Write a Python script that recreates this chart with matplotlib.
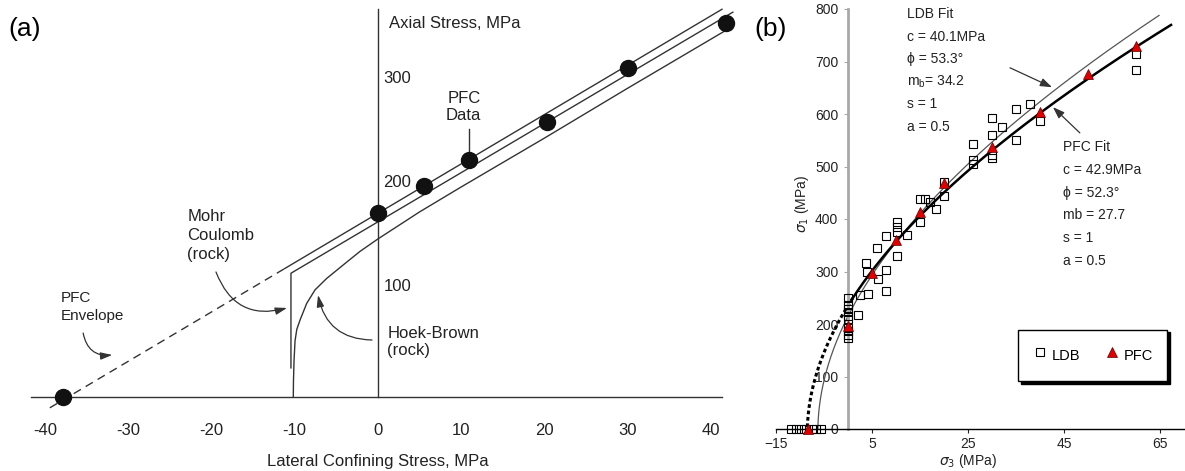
import numpy as np
import matplotlib.pyplot as plt

plt.rcParams['font.family'] = ['Liberation Sans', 'DejaVu Sans']

W, H = 1185, 471

# -------------------------------------------------------
# (a) data: PFC points and the three envelopes
# -------------------------------------------------------
pfc_dots_x = [-37.8, 0.0, 5.5, 10.9, 20.3, 30.0, 41.8]
pfc_dots_y = [0, 177, 203, 228, 264, 316, 360]

envelope_dash_x = [-39.4, -11.2]
envelope_dash_y = [-10.4, 123.5]
envelope_x = [-11.2, 41.3]
envelope_y = [123.5, 372.8]

mohr_x = [-10.45, -10.45, 42.6]
mohr_y = [28, 119, 370]

hoek_a_x = [-10.17, -10.15, -10.08, -9.96, -9.75, -9.36, -8.56, -7.56, -6.16,
            -4.17, -2.16, 0.0, 5.0, 10.0, 20.0, 30.0, 42.5]
hoek_a_y = [0, 15, 35, 54, 65, 74, 90, 103, 114, 127, 140, 152, 178, 202, 249,
            297, 356]

xticks_a = [-40, -30, -20, -10, 0, 10, 20, 30, 40]
yticks_a = [100, 200, 300]

# -------------------------------------------------------
# (b) data: LDB lab tests, PFC tests, Hoek-Brown fits
# -------------------------------------------------------
ldb_x = [-11.9, -10.8, -9.8, -8.75, -7.5, -6.7, -5.6,
         0, 0, 0, 0, 0, 0, 0, 0, 0, 0,
         2.0, 2.5, 4.2, 3.7, 4.0, 6.0, 6.2, 8.0, 8.0, 8.0, 10.2, 10.2, 10.2,
         10.2, 12.3, 15, 15, 16, 17, 18.3, 20, 20, 26, 26, 26, 30, 30, 30, 30,
         32, 35, 35, 38, 40, 60, 60]
ldb_y = [0, 0, 0, 0, 0, 0, 0,
         250, 237, 228, 222, 216, 210, 192, 186, 180, 174,
         217, 255, 258, 316, 300, 345, 286, 303, 263, 368, 330, 376, 385,
         394, 370, 395, 438, 438, 433, 420, 471, 443, 542, 513, 504, 592, 560,
         522, 516, 576, 610, 550, 620, 587, 714, 684]

pfc_x = [-8.3, 0, 5, 10, 15, 20, 30, 40, 50, 60]
pfc_y = [0, 197, 297, 360, 414, 468, 537, 603, 676, 730]

# Hoek-Brown fit parameters (sigma_ci estimated from the plotted curves)
ldb_fit = dict(sci=215.0, mb=34.2, s=1.0, a=0.5, end=64.8)
pfc_fit = dict(sci=235.0, mb=27.7, s=1.0, a=0.5, end=67.3, dash_end=1.0)

ldb_text = ["LDB Fit", "c = 40.1MPa", "\u03d5 = 53.3\u00b0",
            r"m$_\mathregular{b}$= 34.2", "s = 1", "a = 0.5"]
pfc_text = ["PFC Fit", "c = 42.9MPa", "\u03d5 = 52.3\u00b0", "mb = 27.7",
            "s = 1", "a = 0.5"]

xticks_b = [-15, 5, 25, 45, 65]
yticks_b = list(range(0, 801, 100))


def hoek_brown(s3, sci, mb, s, a):
    return s3 + sci * np.clip(mb * s3 / sci + s, 0, None) ** a


def hb_curve(p, start, stop):
    t = np.linspace(0, 1, 400) ** 2
    s3 = start + (stop - start) * t
    return s3, hoek_brown(s3, p["sci"], p["mb"], p["s"], p["a"])


fig = plt.figure(figsize=(W / 100, H / 100), dpi=100)

# -------------------------------------------------------
# panel (a)
# -------------------------------------------------------
ax = fig.add_axes([20 / W, (H - 440) / H, 720 / W, 440 / H])
ax.set_xlim(-42.98, 43.46)
ax.set_ylim(-41.35, 381.7)
for side in ["top", "right"]:
    ax.spines[side].set_visible(False)
ax.spines["left"].set_position(("data", 0))
ax.spines["bottom"].set_position(("data", 0))
ax.spines["left"].set_bounds(0, 372.8)
ax.spines["bottom"].set_bounds(-41.7, 41.3)
for side in ["left", "bottom"]:
    ax.spines[side].set_color("#333333")
    ax.spines[side].set_linewidth(1.0)
ax.set_xticks(xticks_a)
ax.set_xticklabels([str(v) for v in xticks_a])
ax.set_yticks([])
ax.tick_params(axis="x", length=0, pad=19, labelsize=12, colors="#222222")
ax.patch.set_visible(False)

line_kw = dict(color="#333333", lw=1.0)
ax.plot(envelope_dash_x, envelope_dash_y, ls=(0, (6, 4)), **line_kw)
ax.plot(envelope_x, envelope_y, **line_kw)
ax.plot(mohr_x, mohr_y, **line_kw)
ax.plot(hoek_a_x, hoek_a_y, **line_kw)
ax.plot(pfc_dots_x, pfc_dots_y, "o", color="#111111", ms=11.5, zorder=4,
        clip_on=False)

for v in yticks_a:
    ax.annotate(str(v), (0, v), xytext=(4, 4.5), textcoords="offset points",
                ha="left", va="center", fontsize=12, color="#222222")
ax.text(1.3, 358.7, "Axial Stress, MPa", ha="left", va="center", fontsize=12,
        color="#222222")
ax.text(0, -62.5, "Lateral Confining Stress, MPa", ha="center", va="center",
        fontsize=12, color="#222222")

ax.text(10.3, 279, "PFC\nData", ha="center", va="center", fontsize=12,
        color="#222222", linespacing=1.2)
ax.plot([pfc_dots_x[3], pfc_dots_x[3]], [pfc_dots_y[3], 258], **line_kw)

ax.text(-22.9, 155.3, "Mohr\nCoulomb\n(rock)", ha="left", va="center",
        fontsize=12, color="#222222", linespacing=1.3)
ax.text(-38.05, 86.5, "PFC\nEnvelope", ha="left", va="center", fontsize=11,
        color="#222222", linespacing=1.3)
ax.text(1.1, 52.9, "Hoek-Brown\n(rock)", ha="left", va="center", fontsize=12,
        color="#222222", linespacing=1.2)

arrow_kw = dict(arrowstyle="-|>,head_length=0.7,head_width=0.22",
                color="#333333", lw=0.9, shrinkA=0, shrinkB=0,
                mutation_scale=10)
ax.annotate("", xy=(-10.92, 85.6), xytext=(-19.45, 120.2),
            arrowprops=dict(connectionstyle="arc3,rad=0.45", **arrow_kw))
ax.annotate("", xy=(-31.9, 40.4), xytext=(-35.4, 61.5),
            arrowprops=dict(connectionstyle="arc3,rad=0.45", **arrow_kw))
ax.annotate("", xy=(-7.2, 98), xytext=(-0.72, 54.8),
            arrowprops=dict(connectionstyle="arc3,rad=-0.4", **arrow_kw))

# -------------------------------------------------------
# panel (b)
# -------------------------------------------------------
bx = fig.add_axes([776 / W, (H - 429) / H, 408 / W, 420 / H])
bx.set_xlim(-15, 70)
bx.set_ylim(0, 800)
for side in ["top", "right"]:
    bx.spines[side].set_visible(False)
bx.spines["left"].set_position(("data", 0))
bx.spines["left"].set_color("#a8a8a8")
bx.spines["left"].set_linewidth(2.0)
bx.spines["bottom"].set_linewidth(1.0)
bx.set_xticks(xticks_b)
bx.set_yticks(yticks_b)
bx.tick_params(axis="x", direction="out", length=3, width=0.8, pad=3,
               labelsize=10, colors="#222222")
bx.tick_params(axis="y", direction="out", length=3, width=0.8, pad=4,
               labelsize=10, color="#a8a8a8", labelcolor="#222222")
bx.patch.set_visible(False)

s3, s1 = hb_curve(ldb_fit, -ldb_fit["s"] * ldb_fit["sci"] / ldb_fit["mb"],
                  ldb_fit["end"])
bx.plot(s3, s1, color="#555555", lw=0.9, zorder=2)

t0 = -pfc_fit["s"] * pfc_fit["sci"] / pfc_fit["mb"]
s3, s1 = hb_curve(pfc_fit, t0, pfc_fit["dash_end"])
bx.plot(s3, s1, color="black", lw=2.2, ls=(0, (1.2, 0.9)), zorder=2)
s3, s1 = hb_curve(pfc_fit, pfc_fit["dash_end"], pfc_fit["end"])
bx.plot(s3, s1, color="black", lw=1.8, zorder=2)

bx.plot(ldb_x, ldb_y, "s", mfc="none", mec="black", ms=6, mew=0.8,
        clip_on=False, zorder=3, label="LDB")
bx.plot(pfc_x, pfc_y, "^", mfc="#e00000", mec="#600000", ms=7.5, mew=0.5,
        clip_on=False, zorder=4, label="PFC")

for i, s in enumerate(ldb_text):
    bx.text(12.3, 790.5 - i * 43, s, ha="left", va="center", fontsize=10,
            color="#222222")
for i, s in enumerate(pfc_text):
    bx.text(44.8, 537 - i * 43.4, s, ha="left", va="center", fontsize=10,
            color="#222222")

b_arrow = dict(arrowstyle="-|>,head_length=0.7,head_width=0.25",
               color="#333333", lw=0.9, shrinkA=0, shrinkB=0,
               mutation_scale=10)
bx.annotate("", xy=(42.5, 651), xytext=(33.75, 688), arrowprops=b_arrow)
bx.annotate("", xy=(42.7, 613), xytext=(48.3, 564), arrowprops=b_arrow)

bx.text(0.064, 0.535, r"$\sigma_1$ (MPa)", transform=bx.transAxes,
        rotation=90, ha="center", va="center", fontsize=10, color="#222222")
bx.text(25, -61, r"$\sigma_3$ (MPa)", ha="center", va="center", fontsize=10,
        color="#222222")

leg = bx.legend(loc="center", bbox_to_anchor=(0.776, 0.175), ncol=2,
                frameon=True, fancybox=False, edgecolor="black",
                framealpha=1, shadow={"color": "black", "alpha": 1},
                borderpad=1.0, columnspacing=1.7, handletextpad=0.3,
                handlelength=1.0, handleheight=2.0, fontsize=10.5)
leg.get_frame().set_linewidth(1.0)

fig.text(25 / W, 1 - 29 / H, "(a)", fontsize=19, ha="center", va="center")
fig.text(771 / W, 1 - 29 / H, "(b)", fontsize=19, ha="center", va="center")

fig.savefig("out.png", dpi=100)
